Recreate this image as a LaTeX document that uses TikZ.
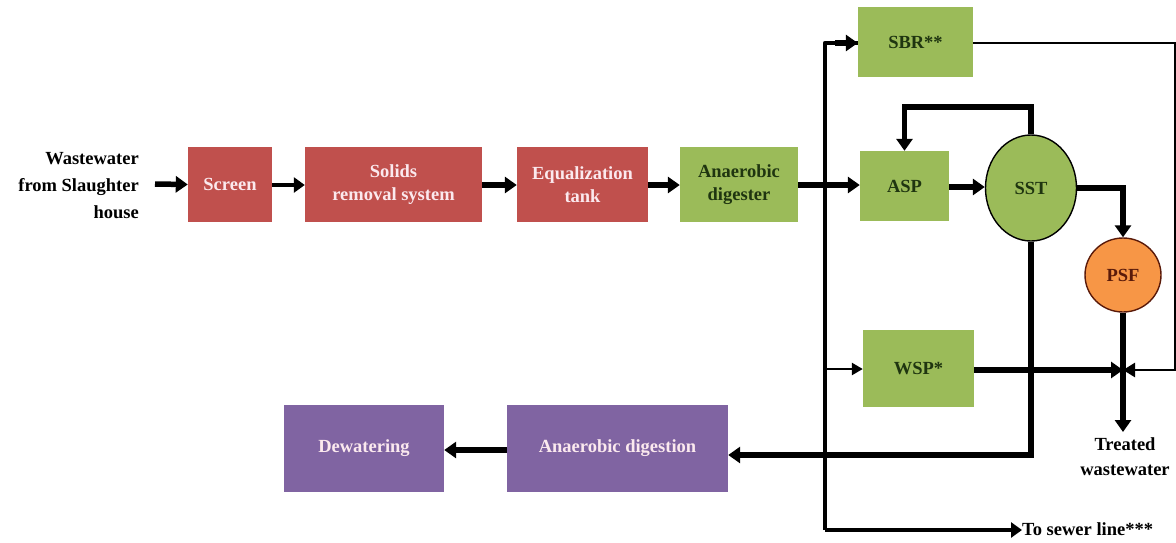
\documentclass[tikz,border=0pt]{standalone}
\usepackage{fontspec}
\setmainfont{Liberation Serif}
\usetikzlibrary{arrows.meta,shapes.geometric}
\definecolor{cred}{HTML}{C0504D}
\definecolor{cgreen}{HTML}{9BBB59}
\definecolor{cpurple}{HTML}{8064A2}
\definecolor{corange}{HTML}{F79646}
\definecolor{gtext}{HTML}{1F3510}
\definecolor{ptext}{HTML}{FBE9EE}
\definecolor{otext}{HTML}{5A1A0A}
\begin{document}
\begin{tikzpicture}[x=1pt,y=-1pt,
  every node/.style={font=\fontsize{18.5}{23}\selectfont\bfseries, inner sep=0pt},
  box/.style={rectangle, align=center},
  redbox/.style={box, fill=cred, text=ptext},
  greenbox/.style={box, fill=cgreen, text=gtext},
  purplebox/.style={box, fill=cpurple, text=ptext},
  thickarrow/.style={line width=5.5pt, -{Triangle[length=12pt,width=16pt]}},
  medarrow/.style={line width=4.5pt, -{Triangle[length=11pt,width=15pt]}},
  thinarrow/.style={line width=2.5pt, -{Triangle[length=11pt,width=12pt]}},
  medline/.style={line width=4.5pt},
]
\useasboundingbox (0,0) rectangle (1176,542);
% nodes
\node[align=right, anchor=east, font=\fontsize{18.5}{27}\selectfont\bfseries] (src) at (139,186) {Wastewater\\from Slaughter\\house};
\node[redbox, minimum width=84, minimum height=75] (screen) at (230,184.5) {Screen};
\node[redbox, minimum width=177, minimum height=75] (solids) at (393.5,184.5) {Solids\\removal system};
\node[redbox, minimum width=131, minimum height=75] (eq) at (582.5,184.5) {Equalization\\tank};
\node[greenbox, minimum width=118, minimum height=75] (ad) at (739,184.5) {Anaerobic\\digester};
\node[greenbox, minimum width=115, minimum height=70] (sbr) at (915.5,42) {SBR**};
\node[greenbox, minimum width=89, minimum height=70] (asp) at (904.5,186) {ASP};
\node[greenbox, minimum width=111, minimum height=77] (wsp) at (918.5,368.5) {WSP*};
\node[ellipse, draw=black, line width=1.4pt, fill=cgreen, text=gtext, minimum width=91, minimum height=106] (sst) at (1031,188) {SST};
\node[ellipse, draw=otext, line width=1.4pt, fill=corange, text=otext, minimum width=76, minimum height=74] (psf) at (1123,275) {PSF};
\node[purplebox, minimum width=160, minimum height=87] (dew) at (364,448.5) {Dewatering};
\node[purplebox, minimum width=221, minimum height=87] (adg) at (617.5,448.5) {Anaerobic digestion};
\node[align=center, anchor=north, font=\fontsize{18.5}{25}\selectfont\bfseries] (treated) at (1125,437) {Treated\\wastewater};
\node[anchor=west] (sewer) at (1022,529) {To sewer line***};
% coordinates
\coordinate (vtop) at (825,43);
\coordinate (vbot) at (825,530);
\coordinate (junc) at (1123,370);
\coordinate (sbrR) at (1175,43);
\coordinate (recyc) at (1031,107);
\coordinate (tout) at (1123,432);
% main line
\draw[thickarrow] (src.east |- 0,184) ++(16,0) -- (screen.west);
\draw[medarrow] (screen.east |- 0,185) -- (solids.west |- 0,185);
\draw[thickarrow] (solids.east |- 0,185) -- (eq.west |- 0,185);
\draw[thickarrow] (eq.east |- 0,185) -- (ad.west |- 0,185);
\draw[thickarrow] (ad.east |- 0,185) -- (asp.west |- 0,185);
% spine
\draw[medline, line join=round] (vbot) -- (vtop) -- (sbr.west |- vtop);
\draw[thickarrow] (vtop) ++(10,0) -- (sbr.west |- vtop);
\draw[medarrow] (vbot) -- (sewer.west |- vbot);
\draw[thinarrow] (825,369) -- (wsp.west |- 0,369);
% SBR to junction
\draw[line width=2.5pt, -{Triangle[length=12pt,width=14pt]}] (sbr.east |- sbrR) -- (sbrR) -- (1175,370) -- (junc);
% WSP to junction
\draw[thickarrow] (wsp.east |- 0,370) -- (junc);
% PSF to treated
\draw[thickarrow] (psf.south) -- (tout);
% ASP -> SST
\draw[thickarrow] (asp.east |- 0,187) -- (sst.west |- 0,187);
% SST -> PSF
\draw[thickarrow] (sst.east) -- (1123,188) -- (psf.north);
% recycle
\draw[thickarrow] (sst.north) -- (recyc) -- (asp.north |- recyc) -- (asp.north);
% SST -> anaerobic digestion
\draw[thickarrow] (sst.south) -- (1031,455) -- (adg.east |- 0,455);
\draw[thickarrow] (adg.west |- 0,450) -- (dew.east |- 0,450);
\end{tikzpicture}
\end{document}
